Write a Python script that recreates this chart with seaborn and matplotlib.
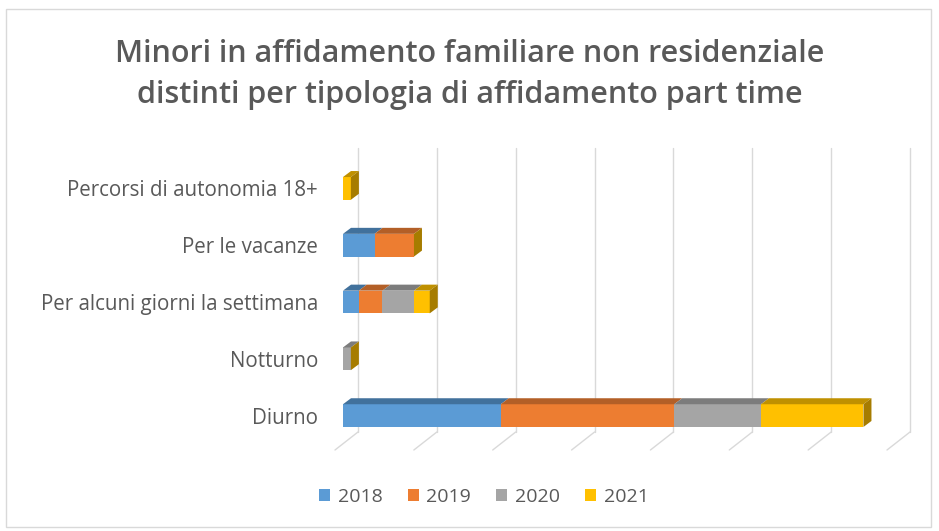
import numpy as np
import pandas as pd
import matplotlib
matplotlib.use("Agg")
import matplotlib.pyplot as plt
from matplotlib.patches import Polygon, Patch, Rectangle
from matplotlib.lines import Line2D
import seaborn as sns

# Data: number of minors per part-time foster care type, by year
categories = [
    "Percorsi di autonomia 18+",
    "Per le vacanze",
    "Per alcuni giorni la settimana",
    "Notturno",
    "Diurno",
]
years = ["2018", "2019", "2020", "2021"]
v2018 = [0, 4, 2, 0, 20]
v2019 = [0, 5, 3, 0, 22]
v2020 = [0, 0, 4, 1, 11]
v2021 = [1, 0, 2, 0, 13]
grid_ticks = [0, 10, 20, 30, 40, 50, 60, 70]

front_colors = ["#5B9BD5", "#ED7D31", "#A5A5A5", "#FFC000"]
top_colors = ["#41719C", "#B35F27", "#7C7C7C", "#BF9000"]
side_color = "#A67C00"
text_color = "#595959"
grid_color = "#D9D9D9"

sns.set_theme(style="white")
plt.rcParams["font.family"] = ["Open Sans", "DejaVu Sans"]

W, H, DPI = 939, 531, 100
fig = plt.figure(figsize=(W / DPI, H / DPI), dpi=DPI)
fig.patch.set_facecolor("white")

# chart-area border
fig.add_artist(Rectangle((6 / W, 1 - 527 / H), 931 / W - 6 / W, (527 - 9) / H,
                         transform=fig.transFigure, fill=False,
                         edgecolor="#D9D9D9", lw=1.0))

x0, x1 = 343, 895
y_top, y_bot = 160, 444
ax = fig.add_axes([x0 / W, 1 - y_bot / H, (x1 - x0) / W, (y_bot - y_top) / H])
ax.set_facecolor("none")

series = [v2018, v2019, v2020, v2021]
cums = np.cumsum(np.array(series), axis=0)
df = pd.DataFrame({"categoria": categories})
for i, y in enumerate(years):
    df["cum_" + y] = cums[i]

bar_h = 0.40
# stacked bars: draw cumulative totals back to front
for i in reversed(range(len(years))):
    sns.barplot(data=df, y="categoria", x="cum_" + years[i], color=front_colors[i],
                saturation=1, width=bar_h, orient="h", errorbar=None, ax=ax,
                order=categories, linewidth=0, edgecolor="none", zorder=3)

xmax = grid_ticks[-1]
ax.set_xlim(0, xmax)
ax.set_ylim(len(categories) - 0.5, -0.5)

# pixel scale of the axes for the 3-D depth effect
px_per_x = (x1 - x0) / xmax
px_per_y = (y_bot - y_top) / len(categories)
bdx, bdy = 8 / px_per_x, 6 / px_per_y          # bar depth
wdx, wdy = 15, 12                               # back wall offset in pixels
fdx, fdy = -8, -6                               # front floor edge offset in pixels

# back-wall gridlines and floor lines
for g in grid_ticks:
    xb, yb = ax.transData.transform((g, len(categories) - 0.5))
    xt, yt = ax.transData.transform((g, -0.5))
    fig.add_artist(Line2D([(xb + wdx) / W, (xt + wdx) / W],
                          [(yb + wdy) / H, (yt + wdy) / H],
                          transform=fig.transFigure, color=grid_color, lw=1.0, zorder=0))
    fig.add_artist(Line2D([(xb + wdx) / W, (xb + fdx) / W],
                          [(yb + wdy) / H, (yb + fdy) / H],
                          transform=fig.transFigure, color=grid_color, lw=1.0, zorder=0))

# top faces and end caps
for c in range(len(categories)):
    ytop = c - bar_h / 2
    ybot = c + bar_h / 2
    left = 0
    for i in range(len(years)):
        right = cums[i][c]
        if right > left:
            ax.add_patch(Polygon([(left, ytop), (right, ytop),
                                  (right + bdx, ytop - bdy), (left + bdx, ytop - bdy)],
                                 closed=True, facecolor=top_colors[i],
                                 edgecolor="none", zorder=4))
        left = right
    end = cums[-1][c]
    ax.add_patch(Polygon([(end, ybot), (end, ytop), (end + bdx, ytop - bdy),
                          (end + bdx, ybot - bdy)], closed=True,
                         facecolor=side_color, edgecolor="none", zorder=4))

ax.set_xticks([])
ax.set_xlabel("")
ax.set_ylabel("")
ax.tick_params(axis="y", length=0, pad=18, labelsize=14.8, labelcolor=text_color)
for s in ax.spines.values():
    s.set_visible(False)
ax.grid(False)

fig.text(470 / W, 1 - 54 / H, "Minori in affidamento familiare non residenziale",
         ha="center", va="center", fontsize=22, fontweight="semibold", color=text_color)
fig.text(470 / W, 1 - 95 / H, "distinti per tipologia di affidamento part time",
         ha="center", va="center", fontsize=22, fontweight="semibold", color=text_color)

handles = [Patch(facecolor=c, edgecolor="none") for c in front_colors]
leg = fig.legend(handles, years, loc="center", bbox_to_anchor=(484 / W, 1 - 497 / H),
                 ncol=4, frameon=False, fontsize=14, handlelength=0.55, handleheight=0.55,
                 handletextpad=0.4, columnspacing=1.3)
for t in leg.get_texts():
    t.set_color(text_color)

fig.savefig("out.png", dpi=DPI, facecolor="white")
